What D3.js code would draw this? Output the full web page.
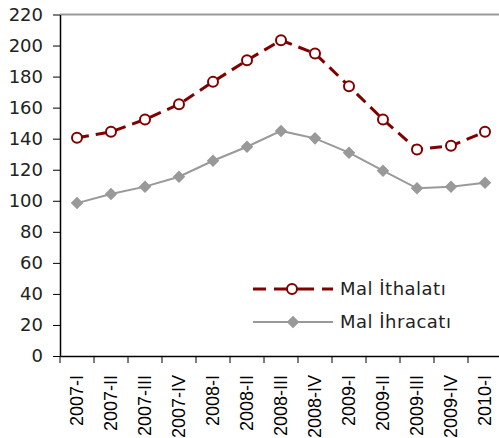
<!DOCTYPE html>
<html>
<head>
<meta charset="utf-8">
<script src="https://cdn.jsdelivr.net/npm/d3@7"></script>
<style>
  body { margin: 0; background: #fff; }
  svg { display: block; }
</style>
</head>
<body>
<script>
var quarters = ["2007-I", "2007-II", "2007-III", "2007-IV", "2008-I", "2008-II", "2008-III",
                "2008-IV", "2009-I", "2009-II", "2009-III", "2009-IV", "2010-I"];
var imports = [140.6, 144.4, 152.4, 162.2, 176.6, 190.5, 203.4, 194.9, 173.8, 152.4, 133.1, 135.4, 144.4];
var exports = [98.5, 104.4, 109.1, 115.5, 125.8, 134.8, 145.0, 140.2, 131.0, 119.4, 108.0, 109.1, 111.6];
var y_ticks = [0, 20, 40, 60, 80, 100, 120, 140, 160, 180, 200, 220];
var legend_labels = ["Mal İthalatı", "Mal İhracatı"];

var width = 499, height = 438;
var plot_left = 60, plot_top = 14.5, plot_bottom = 356, band = 34;

var svg = d3.select("body").append("svg")
    .attr("width", width)
    .attr("height", height);

var x_scale = d3.scaleBand().domain(quarters).range([plot_left, plot_left + quarters.length * band]);
var y_scale = d3.scaleLinear().domain([0, 220]).range([plot_bottom, plot_top]);
var x_center = function(d, i) { return x_scale(quarters[i]) + x_scale.bandwidth() / 2; };

// top border
svg.append("line")
    .attr("x1", plot_left).attr("x2", width)
    .attr("y1", plot_top).attr("y2", plot_top)
    .attr("stroke", "#999").attr("stroke-width", 2);

// y-axis
var y_axis = svg.append("g")
    .attr("transform", "translate(" + plot_left + ",0)")
    .call(d3.axisLeft(y_scale).tickValues(y_ticks).tickSize(7).tickPadding(10).tickSizeOuter(0));
y_axis.select(".domain").attr("stroke", "#000").attr("stroke-width", 1.5);
y_axis.selectAll(".tick line").attr("stroke", "#000");
y_axis.selectAll("text")
    .style("font-family", "DejaVu Sans")
    .style("font-size", "18px")
    .attr("fill", "#222");

// x-axis
var x_axis = svg.append("g")
    .attr("transform", "translate(0," + plot_bottom + ")")
    .call(d3.axisBottom(x_scale).tickSize(0).tickSizeOuter(0));
x_axis.select(".domain").attr("stroke", "#000").attr("stroke-width", 1.5);
x_axis.selectAll("text")
    .style("font-family", "Liberation Sans")
    .style("font-size", "18px")
    .attr("fill", "#000")
    .attr("transform", "rotate(-90)")
    .attr("x", -19)
    .attr("y", 0)
    .attr("dy", "0.35em")
    .style("text-anchor", "end");

// x tick marks between categories
svg.append("g").selectAll("line")
    .data(d3.range(quarters.length + 1))
  .enter().append("line")
    .attr("x1", function(i) { return plot_left + i * band; })
    .attr("x2", function(i) { return plot_left + i * band; })
    .attr("y1", plot_bottom).attr("y2", plot_bottom + 7)
    .attr("stroke", "#000");

var line_fn = d3.line()
    .x(x_center)
    .y(function(d) { return y_scale(d); });

// exports
svg.append("path")
    .datum(exports)
    .attr("fill", "none")
    .attr("stroke", "#999")
    .attr("stroke-width", 2)
    .attr("d", line_fn);

var diamond = d3.symbol().type(d3.symbolDiamond2).size(100);
svg.selectAll(".dia")
    .data(exports)
  .enter().append("path")
    .attr("class", "dia")
    .attr("d", diamond)
    .attr("transform", function(d, i) { return "translate(" + x_center(d, i) + "," + y_scale(d) + ")"; })
    .attr("fill", "#999");

// imports
svg.append("path")
    .datum(imports)
    .attr("fill", "none")
    .attr("stroke", "#800000")
    .attr("stroke-width", 3)
    .attr("stroke-dasharray", "12,7")
    .attr("d", line_fn);

svg.selectAll(".dot")
    .data(imports)
  .enter().append("circle")
    .attr("class", "dot")
    .attr("r", 5)
    .attr("cx", x_center)
    .attr("cy", function(d) { return y_scale(d); })
    .attr("fill", "#fff")
    .attr("stroke", "#800000")
    .attr("stroke-width", 2);

// legend
var legend = svg.append("g");
legend.append("line")
    .attr("x1", 253).attr("x2", 333).attr("y1", 289).attr("y2", 289)
    .attr("stroke", "#800000").attr("stroke-width", 3)
    .attr("stroke-dasharray", "13,8,40,8,15");
legend.append("circle")
    .attr("cx", 292).attr("cy", 289).attr("r", 5)
    .attr("fill", "#fff").attr("stroke", "#800000").attr("stroke-width", 2);
legend.append("line")
    .attr("x1", 253).attr("x2", 333).attr("y1", 322).attr("y2", 322)
    .attr("stroke", "#999").attr("stroke-width", 2);
legend.append("path")
    .attr("d", diamond)
    .attr("transform", "translate(293,322)")
    .attr("fill", "#999");

legend.selectAll("text")
    .data(legend_labels)
  .enter().append("text")
    .attr("x", 340)
    .attr("y", function(d, i) { return 289 + i * 33; })
    .attr("dy", "0.35em")
    .style("font-family", "DejaVu Sans")
    .style("font-size", "18px")
    .style("letter-spacing", "0.5px")
    .attr("fill", "#222")
    .text(function(d) { return d; });
</script>
</body>
</html>
